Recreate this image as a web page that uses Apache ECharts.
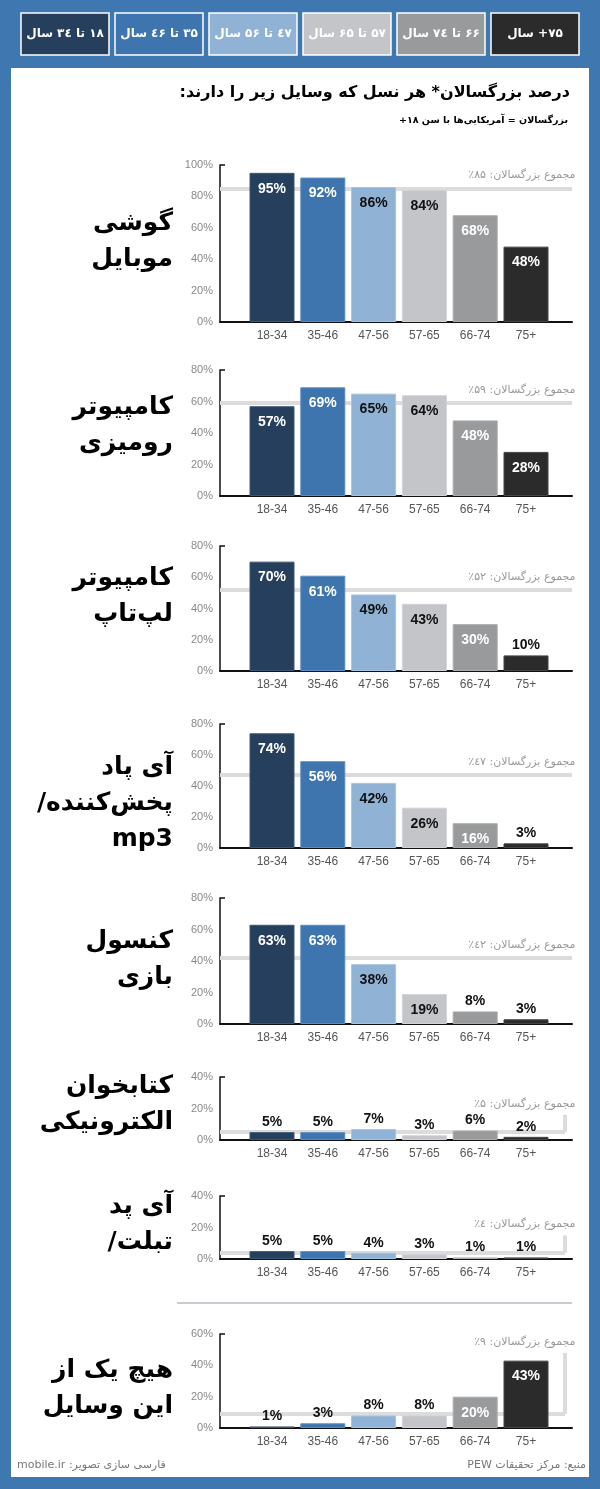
<!DOCTYPE html>
<html>
<head>
<meta charset="utf-8">
<script src="https://cdn.jsdelivr.net/npm/echarts@6/dist/echarts.min.js"></script>
<style>
  html, body { margin: 0; padding: 0; background: #3f77b1; }
  #chart { width: 600px; height: 1489px; direction: rtl; }
</style>
</head>
<body>
<div id="chart"></div>
<script>
// گروه‌های سنی
const categories = ['18-34', '35-46', '47-56', '57-65', '66-74', '75+']
const ageLabelsFa = ['۱۸ تا ۳٤ سال', '۳۵ تا ٤۶ سال', '٤۷ تا ۵۶ سال', '۵۷ تا ۶۵ سال', '۶۶ تا ۷٤ سال', '۷۵+ سال']

// درصد دارندگان هر وسیله در هر نسل
const mobilePhone = [95, 92, 86, 84, 68, 48]
const desktopComputer = [57, 69, 65, 64, 48, 28]
const laptopComputer = [70, 61, 49, 43, 30, 10]
const ipodMp3 = [74, 56, 42, 26, 16, 3]
const gameConsole = [63, 63, 38, 19, 8, 3]
const eReader = [5, 5, 7, 3, 6, 2]
const tablet = [5, 5, 4, 3, 1, 1]
const noneOfThese = [1, 3, 8, 8, 20, 43]

// مجموع بزرگسالان
const adultTotals = [85, 59, 52, 47, 42, 5, 4, 9]
const adultTotalsFa = ['۸۵', '۵۹', '۵۲', '٤۷', '٤۲', '۵', '٤', '۹']

const deviceNames = [
  'گوشی\nموبایل',
  'کامپیوتر\nرومیزی',
  'کامپیوتر\nلپ‌تاپ',
  'آی پاد\nپخش‌کننده/\nmp3',
  'کنسول\nبازی',
  'کتابخوان\nالکترونیکی',
  'آی پد\nتبلت/',
  'هیچ یک از\nاین وسایل'
]
const axisMax = [100, 80, 80, 80, 80, 40, 40, 60]

const title = 'درصد بزرگسالان* هر نسل که وسایل زیر را دارند:'
const subtitle = 'بزرگسالان = آمریکایی‌ها با سن ۱۸+'
const sourceText = 'منبع: مرکز تحقیقات PEW'
const creditText = 'فارسی سازی تصویر: mobile.ir'

// جای هر نمودار روی صفحه (پیکسل) و بلندی خط عمودی برچسب میانگین
const panels = [
  { top: 165, bottom: 322, nameY: 241 },
  { top: 370, bottom: 496, nameY: 425 },
  { top: 546, bottom: 671, nameY: 596 },
  { top: 724, bottom: 848, nameY: 803 },
  { top: 898, bottom: 1024, nameY: 959 },
  { top: 1077, bottom: 1140, nameY: 1104, tail: 16 },
  { top: 1196, bottom: 1259, nameY: 1224, tail: 15 },
  { top: 1334, bottom: 1428, nameY: 1388, tail: 48 }
]

const barColors = ['#263f5c', '#3e75ae', '#8fb2d5', '#c3c5c9', '#999a9b', '#2b2b2b']
const barEdges = ['#3d5673', '#5b8cc1', '#a8c4e1', '#d2d3d6', '#acacac', '#454545']
const insideText = ['#fff', '#fff', '#111', '#111', '#fff', '#fff']
const faFont = '"DejaVu Sans"'
const numFont = '"Liberation Sans", Arial, sans-serif'

// بوم راست‌به‌چپ است؛ «75+» را تکه‌تکه می‌نویسیم تا + سر جایش بماند
const catLabel = v => v.slice(-1) === '+' ? '{n|' + v.slice(0, -1) + '}{n|+}' : v

const allSeries = [mobilePhone, desktopComputer, laptopComputer, ipodMp3, gameConsole, eReader, tablet, noneOfThese]

const grid = []
const xAxis = []
const yAxis = []
const series = []

allSeries.forEach((values, k) => {
  const p = panels[k]
  const h = p.bottom - p.top
  const ga = 2 * k
  const gb = 2 * k + 1

  // قاب محورها
  grid.push({ left: 220, width: 352, top: p.top, height: h, outerBoundsMode: 'none' })
  // ستون‌ها
  grid.push({ left: 246.6, width: 304.8, top: p.top, height: h, outerBoundsMode: 'none' })

  xAxis.push({
    type: 'value', gridIndex: ga, min: 0, max: 1,
    axisLine: { show: true, lineStyle: { color: '#111', width: 2 } },
    axisTick: { show: false }, axisLabel: { show: false }, splitLine: { show: false }
  })
  xAxis.push({
    type: 'category', gridIndex: gb, data: categories,
    axisLine: { show: false }, axisTick: { show: false },
    axisLabel: {
      interval: 0, hideOverlap: false,
      color: '#555', fontSize: 12, margin: 8, fontFamily: numFont,
      formatter: catLabel,
      rich: { n: { color: '#555', fontSize: 12, fontFamily: numFont } }
    }
  })
  yAxis.push({
    type: 'value', gridIndex: ga, min: 0, max: axisMax[k], interval: 20,
    axisLine: { show: true, lineStyle: { color: '#111', width: 1.5 } },
    axisTick: { show: true, inside: true, length: 5, customValues: [axisMax[k]], lineStyle: { color: '#111', width: 1.5 } },
    axisLabel: { formatter: '{value}%', color: '#888', fontSize: 11, margin: 7, fontFamily: numFont },
    splitLine: { show: false }
  })
  yAxis.push({ type: 'value', gridIndex: gb, min: 0, max: axisMax[k], show: false })

  const avg = adultTotals[k]
  const end = p.tail ? 0.98 : 1
  const lines = [[{ coord: [0, avg] }, { coord: [end, avg] }]]
  if (p.tail) lines.push([{ coord: [end, avg] }, { coord: [end, p.tail] }])

  series.push({
    type: 'line', xAxisIndex: ga, yAxisIndex: ga, data: [], z: 1,
    markLine: {
      z: 1, silent: true, symbol: 'none', animation: false,
      lineStyle: { color: '#dcdcdc', width: 4, type: 'solid' },
      label: { show: false },
      data: lines
    },
    markPoint: {
      z: 1, silent: true, symbol: 'circle', symbolSize: 1, animation: false,
      itemStyle: { color: 'transparent' },
      data: [{ coord: [1, p.tail || avg] }],
      label: {
        show: true, position: 'left', distance: 0,
        offset: [4, p.tail ? -11 : -13],
        formatter: 'مجموع بزرگسالان: ' + adultTotalsFa[k] + '٪',
        color: '#999', fontSize: 11, fontFamily: faFont
      }
    }
  })

  series.push({
    type: 'bar', xAxisIndex: gb, yAxisIndex: gb, barWidth: 45, z: 3,
    data: values.map((v, i) => {
      const inside = v >= 12
      return {
        value: v,
        itemStyle: { color: barColors[i], borderColor: barEdges[i], borderWidth: 1 },
        label: {
          show: true,
          position: inside ? 'insideTop' : 'top',
          distance: inside ? 9 : 3,
          color: inside ? insideText[i] : '#111',
          formatter: '{c}%',
          fontSize: 14, fontWeight: 'bold', fontFamily: numFont
        }
      }
    })
  })
})

const graphic = [
  { type: 'rect', z: -10, shape: { x: 0, y: 0, width: 600, height: 1489 }, style: { fill: '#3f77b1' } },
  { type: 'rect', z: -9, shape: { x: 11, y: 68, width: 578, height: 1409 }, style: { fill: '#fff' } },
  {
    type: 'text', z: 10, x: 570, y: 93,
    style: { text: title, align: 'right', verticalAlign: 'middle', font: 'bold 16px ' + faFont, fill: '#000' }
  },
  {
    type: 'text', z: 10, x: 568, y: 121,
    style: { text: subtitle, align: 'right', verticalAlign: 'middle', font: 'bold 9.5px ' + faFont, fill: '#000' }
  },
  {
    type: 'line', z: 10, shape: { x1: 177, y1: 1303, x2: 572, y2: 1303 },
    style: { stroke: '#c9ccd3', lineWidth: 2 }
  },
  {
    type: 'text', z: 10, x: 586, y: 1465,
    style: { text: sourceText, align: 'right', verticalAlign: 'middle', font: '11px ' + faFont, fill: '#777' }
  },
  {
    type: 'text', z: 10, x: 17, y: 1465,
    style: { text: creditText, align: 'left', verticalAlign: 'middle', font: '11px ' + faFont, fill: '#777' }
  }
]

// راهنمای رنگ‌ها در بالای صفحه
ageLabelsFa.forEach((t, i) => {
  const x = 21 + i * 94
  graphic.push({
    type: 'rect', z: 10, shape: { x: x, y: 13, width: 88, height: 42 },
    style: { fill: barColors[i], stroke: '#fff', lineWidth: 1.5 }
  })
  graphic.push({
    type: 'text', z: 11, x: x + 44, y: 34,
    style: { text: t, align: 'center', verticalAlign: 'middle', font: 'bold 12px ' + faFont, fill: '#fff' }
  })
})

// نام وسایل
deviceNames.forEach((t, k) => {
  graphic.push({
    type: 'text', z: 10, x: 173, y: panels[k].nameY,
    style: { text: t, align: 'right', verticalAlign: 'middle', font: 'bold 25px ' + faFont, lineHeight: 36, fill: '#000' }
  })
})

const myChart = echarts.init(document.getElementById('chart'), null, { renderer: 'canvas' })
myChart.setOption({
  animation: false,
  graphic: graphic,
  grid: grid,
  xAxis: xAxis,
  yAxis: yAxis,
  series: series
})
</script>
</body>
</html>
